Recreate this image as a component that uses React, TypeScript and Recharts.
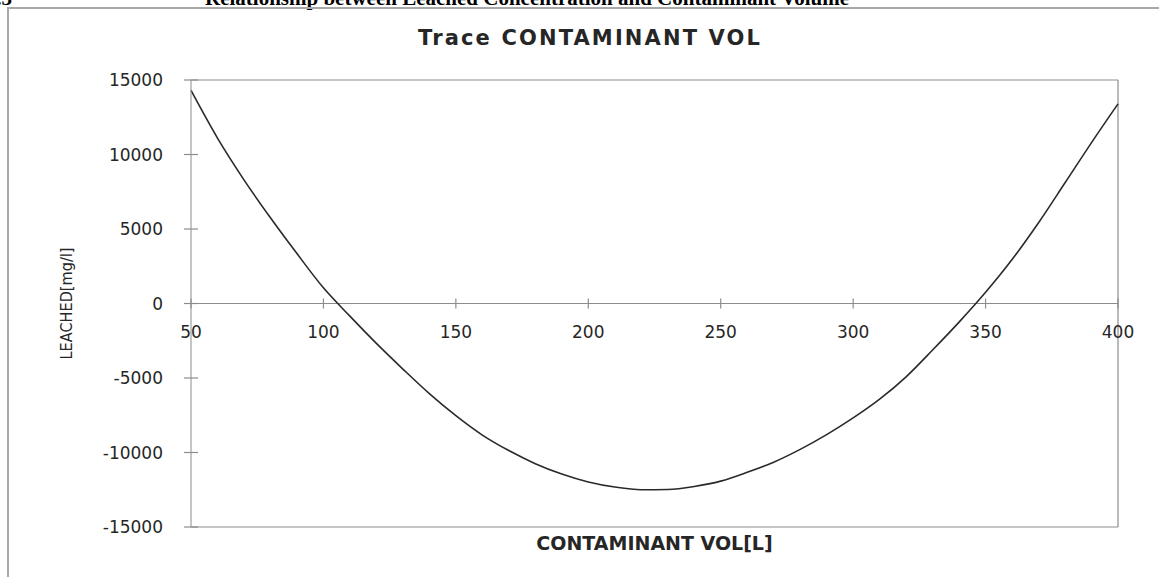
import { LineChart, Line, XAxis, YAxis, ReferenceLine, Customized } from 'recharts';

// contaminant volume [L] and leached concentration [mg/l]
const volumes = [
  50, 60, 70, 80, 90, 100, 110, 120, 130, 140, 150, 160, 170, 180, 190, 200, 210, 220,
  230, 240, 250, 260, 270, 280, 290, 300, 310, 320, 330, 340, 350, 360, 370, 380, 390, 400,
];
const leached = [
  14300, 11100, 8300, 5750, 3350, 1050, -850, -2680, -4400, -6050, -7530, -8830, -9870,
  -10750, -11450, -11980, -12320, -12500, -12480, -12280, -11920, -11330, -10650, -9790,
  -8800, -7680, -6420, -4920, -3120, -1250, 750, 2950, 5420, 8100, 10800, 13400,
];
const xTicks = [50, 100, 150, 200, 250, 300, 350, 400];
const yTicks = [-15000, -10000, -5000, 0, 5000, 10000, 15000];

const data = volumes.map((v, i) => ({ vol: v, leached: leached[i] }));

const W = 1159;
const H = 577;
const MARGIN = { top: 80, right: 41, bottom: 20, left: 50 };
const Y_AXIS_W = 141;
const X_AXIS_H = 30;
const PLOT_H = H - MARGIN.top - MARGIN.bottom - X_AXIS_H;
const Y_MIN = -15000;
const Y_MAX = 15000;
// the x axis crosses at 0, so its ticks sit this far above the plot bottom
const ZERO_UP = (PLOT_H * (0 - Y_MIN)) / (Y_MAX - Y_MIN);

const AXIS = '#8c8c8c';
const INK = '#262626';
const SANS = '"DejaVu Sans", sans-serif';
const SERIF = '"Liberation Serif", serif';

function XTick({ x, y, payload }: any) {
  const y0 = y - ZERO_UP;
  return (
    <g>
      <line x1={x} x2={x} y1={y0 - 5} y2={y0 + 5} stroke={AXIS} strokeWidth={1.2} />
      <text x={x} y={y0 + 34} textAnchor="middle" fontFamily={SANS} fontSize={17} fill={INK}>
        {payload.value}
      </text>
    </g>
  );
}

function YTick({ x, y, payload }: any) {
  return (
    <g>
      <line x1={x - 7} x2={x + 7} y1={y} y2={y} stroke={AXIS} strokeWidth={1.2} />
      <text x={x - 28} y={y + 6} textAnchor="end" fontFamily={SANS} fontSize={17} fill={INK}>
        {payload.value}
      </text>
    </g>
  );
}

// page caption (cut off by the crop), the frame of the chart and its title
const Decorations = () => (
  <g>
    <text x={12} y={5} textAnchor="end" fontFamily={SERIF} fontWeight="bold" fontSize={21} fill="#000">
      4.3
    </text>
    <text x={205} y={5} fontFamily={SERIF} fontWeight="bold" fontSize={21} fill="#000">
      Relationship between Leached Concentration and Contaminant Volume
    </text>
    <rect x={8} y={8} width={1220} height={640} fill="none" stroke="#a8a8a8" strokeWidth={2} />
    <text
      x={589}
      y={45}
      textAnchor="middle"
      fontFamily={SANS}
      fontWeight="bold"
      fontSize={21}
      fill={INK}
      textLength={342}
    >
      Trace CONTAMINANT VOL
    </text>
  </g>
);

export default function App() {
  return (
    <div style={{ position: 'absolute', left: 0, top: 0, width: W, height: H, overflow: 'hidden', background: '#fff' }}>
      <LineChart width={W} height={H} data={data} margin={MARGIN}>
        <Customized component={Decorations} />
        <XAxis
          dataKey="vol"
          type="number"
          domain={[50, 400]}
          ticks={xTicks}
          interval={0}
          height={X_AXIS_H}
          tickSize={0}
          tickMargin={0}
          stroke={AXIS}
          tick={XTick}
          label={({ viewBox }: any) => (
            <text
              x={viewBox.x + viewBox.width / 2}
              y={viewBox.y + 23}
              textAnchor="middle"
              fontFamily={SANS}
              fontWeight="bold"
              fontSize={19}
              fill={INK}
            >
              CONTAMINANT VOL[L]
            </text>
          )}
        />
        <YAxis
          type="number"
          domain={[Y_MIN, Y_MAX]}
          ticks={yTicks}
          interval={0}
          width={Y_AXIS_W}
          tickSize={0}
          tickMargin={0}
          stroke={AXIS}
          tick={YTick}
          label={({ viewBox }: any) => {
            const cx = viewBox.x + 16;
            const cy = viewBox.y + viewBox.height / 2;
            return (
              <text
                x={cx}
                y={cy}
                transform={`rotate(-90 ${cx} ${cy})`}
                textAnchor="middle"
                dominantBaseline="central"
                fontFamily={SANS}
                fontSize={16}
                fill={INK}
                textLength={112}
                lengthAdjust="spacingAndGlyphs"
              >
                LEACHED[mg/l]
              </text>
            );
          }}
        />
        <ReferenceLine y={Y_MAX} stroke={AXIS} strokeWidth={1.2} />
        <ReferenceLine x={400} stroke={AXIS} strokeWidth={1.2} />
        <ReferenceLine y={0} stroke={AXIS} strokeWidth={1.2} />
        <Line
          type="monotone"
          dataKey="leached"
          stroke="#2a2a2a"
          strokeWidth={1.6}
          dot={false}
          isAnimationActive={false}
        />
      </LineChart>
    </div>
  );
}
